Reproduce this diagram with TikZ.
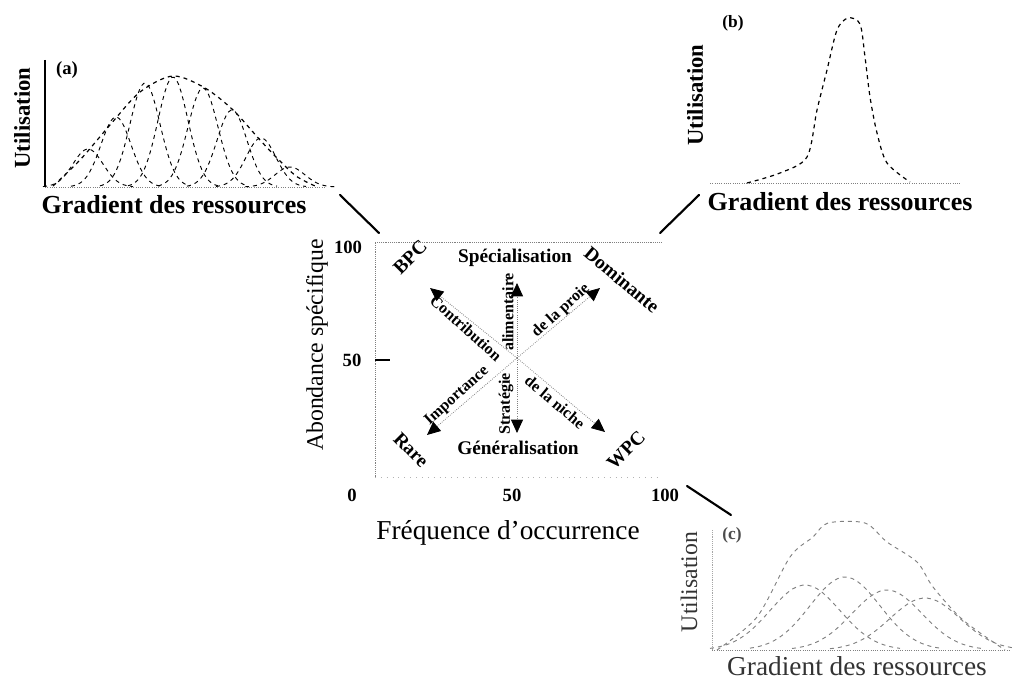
\documentclass[tikz,border=0pt]{standalone}
\usepackage{fontspec}
\setmainfont{Liberation Serif}
\usetikzlibrary{arrows.meta}
\begin{document}
\begin{tikzpicture}[x=0.75pt,y=-0.75pt,
  big/.style={font=\fontsize{20.5}{22}\selectfont, inner sep=0},
  bigb/.style={font=\fontsize{19.5}{22}\selectfont\bfseries, inner sep=0},
  ylab/.style={font=\fontsize{17.8}{20}\selectfont, rotate=90, inner sep=0},
  ylabb/.style={font=\fontsize{17}{20}\selectfont\bfseries, rotate=90, inner sep=0},
  lab/.style={font=\fontsize{14.5}{16}\selectfont\bfseries, inner sep=0},
  alab/.style={font=\fontsize{12}{13}\selectfont\bfseries, inner sep=0},
  tick/.style={font=\fontsize{14}{15}\selectfont\bfseries, inner sep=0},
  arr/.style={densely dotted, gray, line width=0.6pt, -{Triangle[length=10pt,width=9pt,color=black]}},
  slash/.style={line width=1.6pt, line cap=round},
  curve/.style={dashed, line width=0.9pt},
  ccurve/.style={dashed, gray, line width=0.7pt},
  base/.style={densely dotted, gray, line width=0.7pt}
]
\useasboundingbox (0,0) rectangle (1013,680);

% ---------- panel (a)
\draw[line width=1.6pt] (45,60) -- (45,187);
\draw[base] (45,187) -- (325,187);
\node[tick] (la) at (67,70) {(a)};
\node[ylabb] (ua) at (22,118) {Utilisation};
\node[bigb] (ga) at (174,205) {Gradient des ressources};
\draw[curve] plot[smooth] coordinates {(53,186) (80,160) (110,125) (140,92) (173,76) (205,88) (233,110) (260,140) (277,158) (296,176) (315,186)};
\foreach \c/\h in {88/38,116/70,145/104,173/110,203/99,232/77,261/49,290/20}{
  \draw[curve, line width=0.7pt] plot[domain=\c-45:\c+45, samples=40] (\x,{187-\h*exp(-0.5*((\x-\c)/15)^2)});
}

% ---------- panel (b)
\draw[base] (710,183) -- (960,183);
\node[tick, font=\fontsize{13}{15}\selectfont\bfseries] (lb) at (733,23) {(b)};
\node[ylabb] (ub) at (695,95) {Utilisation};
\node[bigb] (gb) at (840,202) {Gradient des ressources};
\draw[curve] plot[smooth] coordinates {(747,183) (780,173) (807,157) (817,110) (827,70) (837,30) (848,18) (860,24) (865,57) (870,97) (877,133) (887,163) (910,182)};

% ---------- panel (c)
\draw[densely dotted, gray!70] (712,530) -- (712,650);
\draw[base] (712,650) -- (1010,650);
\node[tick, font=\fontsize{13}{15}\selectfont\bfseries, text=black!70] (lc) at (732,535) {(c)};
\node[ylab, text=black!80] (uc) at (689,582) {Utilisation};
\node[big, text=black!80] (gc) at (857,666) {Gradient des ressources};
\draw[ccurve] plot[smooth] coordinates {(717,650) (757,617) (790,557) (813,537) (828,523) (865,523) (887,542) (917,562) (933,587) (963,620) (1005,650)};
\foreach \c/\h in {805/65,845/73,887/60,925/52}{
  \draw[ccurve] plot[domain=\c-95:\c+95, samples=40] (\x,{650-\h*exp(-0.5*((\x-\c)/35)^2)});
}

% ---------- central plot
\draw[densely dotted, gray] (375,477) -- (375,242) -- (662,242);
\draw[loosely dotted, gray!60] (375,477) -- (662,477);
\draw[line width=1pt] (375,360) -- (390,360);
\node[tick] (t100) at (348,247) {100};
\node[tick] (t50) at (352,360) {50};
\node[tick] (t0) at (352,495) {0};
\node[tick] (x50) at (512,495) {50};
\node[tick] (x100) at (665,495) {100};
\node[ylab] (ab) at (317,345) {Abondance spécifique};
\node[big] (fr) at (508,533) {Fréquence d’occurrence};

\coordinate (c) at (517,358);
\coordinate (ul) at (430,288);
\coordinate (u) at (517,283);
\coordinate (ur) at (600,288);
\coordinate (dl) at (427,435);
\coordinate (d) at (517,433);
\coordinate (dr) at (605,432);
\foreach \t in {ul,u,ur,dl,d,dr}{\draw[arr] (c) -- (\t);}

\node[lab, rotate=45] (bpc) at (410,257) {BPC};
\node[lab] (spe) at (515,258) {Spécialisation};
\node[lab, rotate=-40] (dom) at (622,280) {Dominante};
\node[lab, rotate=-45] (rare) at (411,450) {Rare};
\node[lab] (gen) at (518,448) {Généralisation};
\node[lab, rotate=45] (wpc) at (626,450) {WPC};

\node[alab, rotate=-42] (contr) at (466,328) {Contribution};
\node[alab, rotate=90] (alim) at (508,312) {alimentaire};
\node[alab, rotate=42] (proie) at (561,311) {de la proie};
\node[alab, rotate=42] (imp) at (457,396) {Importance};
\node[alab, rotate=90] (strat) at (506,404) {Stratégie};
\node[alab, rotate=-40] (niche) at (555,402) {de la niche};

% ---------- slash connectors
\coordinate (s1a) at (340,195); \coordinate (s1b) at (379,233);
\coordinate (s2a) at (660,233); \coordinate (s2b) at (699,195);
\coordinate (s3a) at (687,486); \coordinate (s3b) at (731,515);
\draw[slash] (s1a) -- (s1b);
\draw[slash] (s2a) -- (s2b);
\draw[slash] (s3a) -- (s3b);
\end{tikzpicture}
\end{document}
